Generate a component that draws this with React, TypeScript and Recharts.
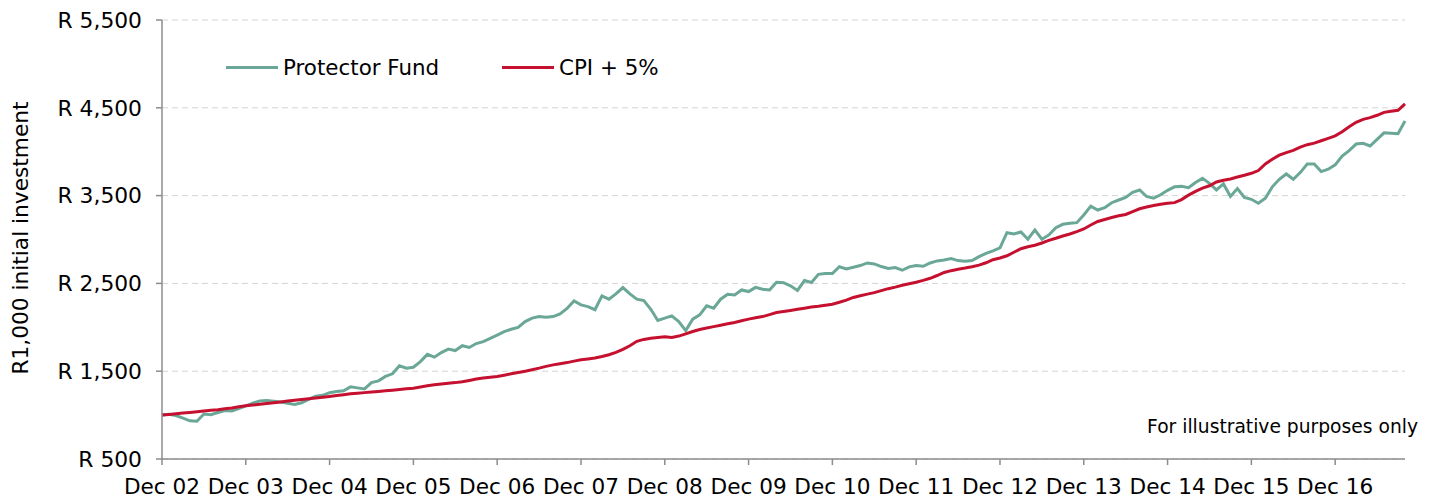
import { LineChart, Line, XAxis, YAxis, CartesianGrid } from 'recharts';

const FONT = '"DejaVu Sans", Verdana, sans-serif';
const GREEN = '#6ba797';
const RED = '#c5112f';

const MONTH_NAMES = ['Jan', 'Feb', 'Mar', 'Apr', 'May', 'Jun', 'Jul', 'Aug', 'Sep', 'Oct', 'Nov', 'Dec'];

// monthly categories, Dec 02 .. Oct 17
const months: string[] = [];
for (let k = 0; k < 179; k++) {
  const m = (11 + k) % 12;
  const yr = 2002 + Math.floor((11 + k) / 12);
  months.push(`${MONTH_NAMES[m]} ${String(yr % 100).padStart(2, '0')}`);
}

const protectorFund = [
  1000, 1010, 995, 965, 935, 930, 1012, 1005, 1030, 1052, 1048, 1075, 1105,
  1135, 1162, 1165, 1158, 1150, 1135, 1122, 1140, 1180, 1215, 1225, 1255,
  1268, 1278, 1322, 1310, 1298, 1370, 1390, 1440, 1470, 1562, 1535, 1545,
  1610, 1692, 1660, 1712, 1752, 1735, 1790, 1770, 1815, 1837, 1875, 1912,
  1950, 1978, 1998, 2065, 2105, 2122, 2115, 2122, 2152, 2215, 2300, 2255,
  2235, 2200, 2358, 2320, 2380, 2452, 2380, 2320, 2305, 2205, 2078, 2104,
  2130, 2066, 1962, 2093, 2142, 2244, 2218, 2320, 2377, 2369, 2425, 2407,
  2455, 2434, 2426, 2512, 2508, 2472, 2420, 2532, 2510, 2603, 2612, 2612,
  2690, 2665, 2684, 2703, 2733, 2722, 2692, 2670, 2680, 2650, 2688, 2703,
  2695, 2733, 2756, 2767, 2782, 2760, 2752, 2760, 2805, 2843, 2870, 2905,
  3078, 3063, 3086, 3003, 3109, 3003, 3052, 3135, 3173, 3185, 3192, 3280,
  3380, 3336, 3363, 3419, 3450, 3480, 3537, 3564, 3490, 3470, 3510, 3560,
  3600, 3605, 3590, 3650, 3696, 3640, 3565, 3633, 3490, 3580, 3478, 3458,
  3413, 3470, 3600, 3686, 3746, 3686, 3762, 3860, 3860, 3773, 3800, 3850,
  3950, 4012, 4087, 4095, 4065, 4140, 4215, 4210, 4205, 4350,
];

const cpiPlus5 = [
  1000, 1008, 1016, 1023, 1030, 1038, 1046, 1054, 1062, 1072, 1082, 1094, 1106,
  1114, 1123, 1132, 1141, 1150, 1160, 1170, 1178, 1186, 1195, 1203, 1212,
  1222, 1232, 1243, 1250, 1256, 1263, 1269, 1276, 1283, 1291, 1299, 1307,
  1320, 1334, 1345, 1355, 1362, 1370, 1380, 1395, 1410, 1422, 1432, 1440,
  1455, 1470, 1485, 1500, 1517, 1535, 1555, 1572, 1585, 1598, 1615, 1630,
  1640, 1650, 1668, 1688, 1715, 1748, 1790, 1840, 1862, 1876, 1885, 1893,
  1885, 1900, 1925, 1952, 1975, 1992, 2008, 2024, 2040, 2055, 2074, 2093,
  2108, 2122, 2145, 2168, 2180, 2192, 2205, 2218, 2230, 2240, 2252, 2263,
  2285, 2310, 2340, 2360, 2378, 2395, 2418, 2440, 2458, 2478, 2496, 2514,
  2535, 2558, 2590, 2625, 2645, 2662, 2675, 2690, 2708, 2735, 2770, 2790,
  2815, 2855, 2895, 2918, 2935, 2960, 2990, 3014, 3040, 3063, 3090, 3120,
  3165, 3205, 3228, 3250, 3270, 3285, 3318, 3350, 3370, 3388, 3402, 3412,
  3420, 3455, 3505, 3548, 3585, 3612, 3655, 3675, 3690, 3712, 3732, 3754,
  3785, 3860, 3915, 3960, 3990, 4015, 4052, 4080, 4098, 4125, 4152, 4180,
  4228, 4285, 4335, 4368, 4388, 4415, 4448, 4460, 4472, 4545,
];

const xTicks = [
  'Dec 02', 'Dec 03', 'Dec 04', 'Dec 05', 'Dec 06', 'Dec 07', 'Dec 08', 'Dec 09',
  'Dec 10', 'Dec 11', 'Dec 12', 'Dec 13', 'Dec 14', 'Dec 15', 'Dec 16',
];
const yTicks = [500, 1500, 2500, 3500, 4500, 5500];

const chartData = months.map((month, i) => ({
  month,
  fund: protectorFund[i],
  cpi: cpiPlus5[i],
}));

export default function App() {
  return (
    <div style={{ position: 'absolute', left: 0, top: 0, width: 1434, height: 499, fontFamily: FONT, background: '#fff' }}>
      <LineChart width={1434} height={499} data={chartData} margin={{ top: 20, right: 29, bottom: 0, left: 0 }}>
        <CartesianGrid vertical={false} stroke="#d4d4d4" strokeDasharray="6 4" />
        <XAxis
          dataKey="month"
          ticks={xTicks}
          interval={0}
          height={40}
          tick={{ fontSize: 21.6, fill: '#000', fontFamily: FONT }}
          tickMargin={14}
          tickSize={6}
          stroke="#8c8c8c"
          strokeWidth={1.5}
        />
        <YAxis
          domain={[500, 5500]}
          ticks={yTicks}
          width={162}
          tick={{ fontSize: 21.8, fill: '#000', fontFamily: FONT }}
          tickFormatter={(v: number) => `R ${v.toLocaleString('en-US')}`}
          tickMargin={14}
          tickSize={6}
          stroke="#8c8c8c"
          strokeWidth={1.5}
        />
        <Line type="linear" dataKey="fund" stroke={GREEN} strokeWidth={3} dot={false} isAnimationActive={false} name="Protector Fund" />
        <Line type="linear" dataKey="cpi" stroke={RED} strokeWidth={3} dot={false} isAnimationActive={false} name="CPI + 5%" />
      </LineChart>

      {/* y axis title */}
      <div
        style={{
          position: 'absolute',
          left: 20,
          top: 238,
          transform: 'translate(-50%, -50%) rotate(-90deg)',
          whiteSpace: 'nowrap',
          fontSize: 21.7,
          color: '#000',
        }}
      >
        R1,000 initial investment
      </div>

      {/* legend */}
      <div style={{ position: 'absolute', left: 226, top: 55, display: 'flex', alignItems: 'center', fontSize: 21.4, color: '#000', whiteSpace: 'nowrap' }}>
        <div style={{ width: 52, height: 3, background: GREEN, marginRight: 5 }} />
        <span>Protector Fund</span>
      </div>
      <div style={{ position: 'absolute', left: 502, top: 55, display: 'flex', alignItems: 'center', fontSize: 21.4, color: '#000', whiteSpace: 'nowrap' }}>
        <div style={{ width: 52, height: 3, background: RED, marginRight: 5 }} />
        <span>CPI + 5%</span>
      </div>

      {/* note */}
      <div style={{ position: 'absolute', right: 1434 - 1418, top: 416, fontSize: 18.7, color: '#000', whiteSpace: 'nowrap' }}>
        For illustrative purposes only
      </div>
    </div>
  );
}
